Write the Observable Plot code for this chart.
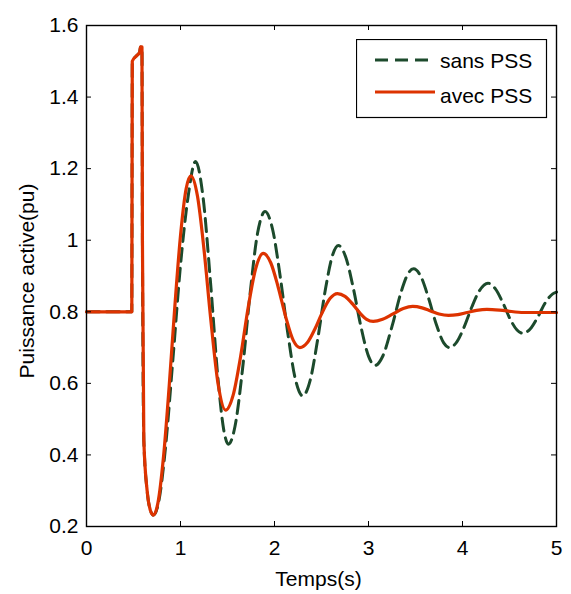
<!DOCTYPE html>
<html>
<head>
<meta charset="utf-8">
<script src="https://cdn.jsdelivr.net/npm/d3@7"></script>
<script src="https://cdn.jsdelivr.net/npm/@observablehq/plot@0.6"></script>
<style>
  body { margin: 0; background: #fff; }
  #wrap { position: relative; width: 571px; height: 594px; font-family: "Liberation Sans", Arial, sans-serif; }
  #legend { position: absolute; left: 356px; top: 39px; }
</style>
</head>
<body>
<div id="wrap"></div>
<script>
// ---- data ----
const xTicks = [0, 1, 2, 3, 4, 5];
const yTicks = [0.2, 0.4, 0.6, 0.8, 1, 1.2, 1.4, 1.6];
const seriesNames = ["sans PSS", "avec PSS"];
const xLabel = "Temps(s)";
const yLabel = "Puissance active(pu)";

// sans PSS (dashed green)
const tSans = [0, 0.482, 0.487, 0.53, 0.565, 0.575, 0.59, 0.595, 0.61, 0.645, 0.68, 0.713,
  0.77, 0.84, 0.92, 1.00, 1.08, 1.16, 1.24, 1.32, 1.40, 1.46, 1.51, 1.58, 1.66, 1.74, 1.82, 1.90,
  1.98, 2.06, 2.14, 2.22, 2.30, 2.38, 2.46, 2.54, 2.62, 2.68, 2.76, 2.84, 2.92, 3.00, 3.07,
  3.15, 3.25, 3.35, 3.42, 3.48, 3.56, 3.64, 3.72, 3.80, 3.86, 3.94, 4.02, 4.10, 4.18, 4.27,
  4.35, 4.43, 4.51, 4.58, 4.64, 4.72, 4.80, 4.88, 4.96, 5.00];
const pSans = [0.8, 0.8, 1.50, 1.515, 1.525, 1.54, 1.54, 1.0, 0.44, 0.30, 0.245, 0.232,
  0.272, 0.42, 0.67, 0.93, 1.12, 1.22, 1.12, 0.88, 0.61, 0.47, 0.43, 0.48, 0.64, 0.85, 1.02, 1.08,
  1.03, 0.90, 0.743, 0.614, 0.565, 0.609, 0.724, 0.86, 0.96, 0.985, 0.951, 0.864, 0.758, 0.676, 0.65,
  0.675, 0.759, 0.858, 0.906, 0.92, 0.897, 0.837, 0.766, 0.713, 0.70, 0.716, 0.759, 0.814, 0.859, 0.88,
  0.864, 0.825, 0.778, 0.749, 0.74, 0.752, 0.785, 0.825, 0.85, 0.855];

// avec PSS (solid red)
const tAvec = [0, 0.482, 0.487, 0.53, 0.565, 0.575, 0.59, 0.595, 0.61, 0.645, 0.68, 0.713,
  0.76, 0.82, 0.88, 0.94, 1.00, 1.06, 1.11, 1.18, 1.25, 1.32, 1.40, 1.48, 1.56, 1.64, 1.72, 1.80, 1.88,
  1.96, 2.04, 2.12, 2.20, 2.27, 2.35, 2.43, 2.51, 2.59, 2.67, 2.75, 2.83, 2.91, 2.98, 3.05,
  3.15, 3.26, 3.37, 3.47, 3.57, 3.66, 3.75, 3.85, 3.95, 4.05, 4.15, 4.26, 4.45, 4.65, 4.85, 5.00];
const pAvec = [0.8, 0.8, 1.50, 1.515, 1.525, 1.54, 1.54, 1.0, 0.44, 0.30, 0.245, 0.232,
  0.266, 0.397, 0.594, 0.816, 1.013, 1.144, 1.18, 1.124, 0.974, 0.784, 0.598, 0.525, 0.567, 0.676, 0.812, 0.921, 0.963,
  0.937, 0.868, 0.785, 0.720, 0.70, 0.714, 0.752, 0.799, 0.837, 0.851, 0.843, 0.822, 0.796, 0.779, 0.773,
  0.779, 0.794, 0.809, 0.815, 0.811, 0.8025, 0.794, 0.79, 0.792, 0.798, 0.804, 0.807, 0.803, 0.798, 0.798, 0.798];

const sans = tSans.map((t, i) => ({t, p: pSans[i]}));
const avec = tAvec.map((t, i) => ({t, p: pAvec[i]}));

// ---- layout / style ----
const W = 571, H = 594, ML = 86, MR = 15, MT = 25, MB = 68;
const FW = W - ML - MR, FH = H - MT - MB, TICK = 5;
const GREEN = "#1c4a2c", RED = "#dd3300";
const FONT = "Liberation Sans, Arial, sans-serif";

const chart = Plot.plot({
  width: W, height: H,
  marginLeft: ML, marginRight: MR, marginTop: MT, marginBottom: MB,
  style: {fontFamily: FONT, fontSize: "21px", color: "#000", background: "#fff"},
  x: {domain: [0, 5], label: null},
  y: {domain: [0.2, 1.6], label: null},
  marks: [
    Plot.line(sans, {x: "t", y: "p", stroke: GREEN, strokeWidth: 3, strokeDasharray: "13,7", curve: "monotone-x"}),
    Plot.line(avec, {x: "t", y: "p", stroke: RED, strokeWidth: 3.2, curve: "monotone-x"}),
    Plot.frame({stroke: "#000", strokeWidth: 1.4}),
    Plot.tickX(xTicks, {x: d => d, insetTop: FH - TICK, stroke: "#000"}),
    Plot.tickX(xTicks, {x: d => d, insetBottom: FH - TICK, stroke: "#000"}),
    Plot.tickY(yTicks, {y: d => d, insetRight: FW - TICK, stroke: "#000"}),
    Plot.tickY(yTicks, {y: d => d, insetLeft: FW - TICK, stroke: "#000"}),
    Plot.axisX({ticks: xTicks, tickSize: 0, tickPadding: 14, tickFormat: d => String(d), label: null}),
    Plot.axisY({ticks: yTicks, tickSize: 0, tickPadding: 8, tickFormat: d => String(d), label: null}),
    Plot.text([xLabel], {frameAnchor: "bottom", lineAnchor: "bottom", dy: 59, dx: -3, fontSize: 21}),
    Plot.text([yLabel], {frameAnchor: "left", rotate: -90, textAnchor: "middle", lineAnchor: "bottom", dx: -53, dy: 5, fontSize: 21})
  ]
});

const wrap = document.getElementById("wrap");
wrap.appendChild(chart);

// ---- legend (inside the axes, top-right) ----
const lw = 190, lh = 78;
const leg = d3.select(wrap).append("svg")
  .attr("id", "legend").attr("width", lw + 2).attr("height", lh + 2)
  .style("font-family", FONT).style("font-size", "21px");
leg.append("rect").attr("x", 0.5).attr("y", 0.5).attr("width", lw).attr("height", lh)
  .attr("fill", "#fff").attr("stroke", "#000").attr("stroke-width", 1.2);
const rows = [
  {name: seriesNames[0], color: GREEN, dash: "13,7", ly: 21, ty: 29},
  {name: seriesNames[1], color: RED, dash: null, ly: 53, ty: 64}
];
rows.forEach(r => {
  leg.append("line").attr("x1", 19).attr("x2", 79).attr("y1", r.ly).attr("y2", r.ly)
    .attr("stroke", r.color).attr("stroke-width", 3).attr("stroke-dasharray", r.dash);
  leg.append("text").attr("x", 84).attr("y", r.ty).attr("fill", "#000").text(r.name);
});
</script>
</body>
</html>
